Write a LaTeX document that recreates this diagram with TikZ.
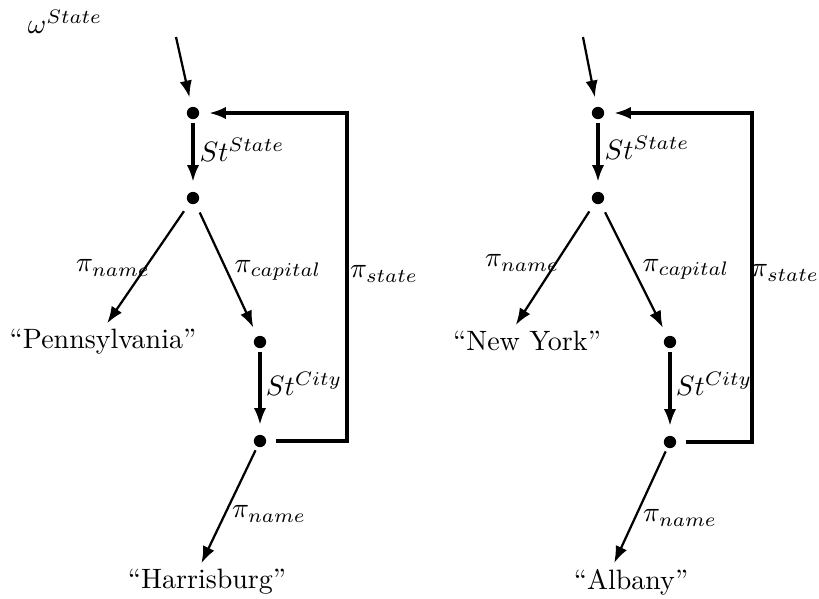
\documentclass[tikz,border=0pt]{standalone}
\usepackage{tikz}
\usetikzlibrary{arrows.meta}
\tikzset{>={Latex[width=4.4pt,length=6pt]}}
\tikzset{
  vertex/.style={circle, fill, inner sep=0pt, minimum size=4.4pt, outer sep=3.5pt},
  word/.style={inner sep=2pt},
  lab/.style={inner sep=0pt},
  thinarr/.style={->, line width=0.8pt},
  thickarr/.style={->, line width=1.4pt},
}

\begin{document}
\begin{tikzpicture}[x=0.357pt, y=-0.357pt]

  \useasboundingbox (0,0) rectangle (819,598); %% positioning

  %% Pennsylvania
  \node[lab] (omega) at (65,22) {$\omega^{State}$};
  \coordinate (inA) at (176,37);
  \coordinate (cA) at (347,113);
  \node[vertex] (a1) at (193,113) {};
  \node[vertex] (a2) at (193,198) {};
  \node[vertex] (a3) at (260,342) {};
  \node[vertex] (a4) at (260,441) {};
  \node[word] (pen) at (103,342) {``Pennsylvania''};
  \node[word] (harris) at (207,582) {``Harrisburg''};

  \draw[thinarr] (inA) -- (a1);
  \draw[thickarr, shorten <=-2pt] (a1) -- (a2);
  \draw[thinarr] (a2) -- ([xshift=1.5pt]pen.north);
  \draw[thinarr] (a2) -- (a3);
  \draw[thickarr, shorten <=-2pt] (a3) -- (a4);
  \draw[thinarr, shorten <=-2pt] (a4) -- ([xshift=-2pt]harris.north);
  \draw[thickarr] (a4) -| (cA) -- (a1);

  \node[lab] (lstA) at (242,150) {$St^{State}$};
  \node[lab] (lnameA) at (113,268) {$\pi_{name}$};
  \node[lab] (lcapA) at (278,270) {$\pi_{capital}$};
  \node[lab] (lstateA) at (384,274) {$\pi_{state}$};
  \node[lab] (lcityA) at (304,384) {$St^{City}$};
  \node[lab] (lnameA2) at (269,514) {$\pi_{name}$};

  %% New York
  \coordinate (inB) at (583,37);
  \coordinate (cB) at (752,113);
  \node[vertex] (b1) at (598,113) {};
  \node[vertex] (b2) at (598,198) {};
  \node[vertex] (b3) at (670,342) {};
  \node[vertex] (b4) at (670,442) {};
  \node[word] (ny) at (527,341) {``New York''};
  \node[word] (alb) at (631,582) {``Albany''};

  \draw[thinarr] (inB) -- (b1);
  \draw[thickarr, shorten <=-2pt] (b1) -- (b2);
  \draw[thinarr] (b2) -- ([xshift=-4pt]ny.north);
  \draw[thinarr] (b2) -- (b3);
  \draw[thickarr, shorten <=-2pt] (b3) -- (b4);
  \draw[thinarr, shorten <=-2pt] (b4) -- ([xshift=-6pt]alb.north);
  \draw[thickarr] (b4) -| (cB) -- (b1);

  \node[lab] (lstB) at (647,148) {$St^{State}$};
  \node[lab] (lnameB) at (522,263) {$\pi_{name}$};
  \node[lab] (lcapB) at (686,269) {$\pi_{capital}$};
  \node[lab] (lstateB) at (785,273) {$\pi_{state}$};
  \node[lab] (lcityB) at (714,384) {$St^{City}$};
  \node[lab] (lnameB2) at (680,518) {$\pi_{name}$};

\end{tikzpicture}
\end{document}
